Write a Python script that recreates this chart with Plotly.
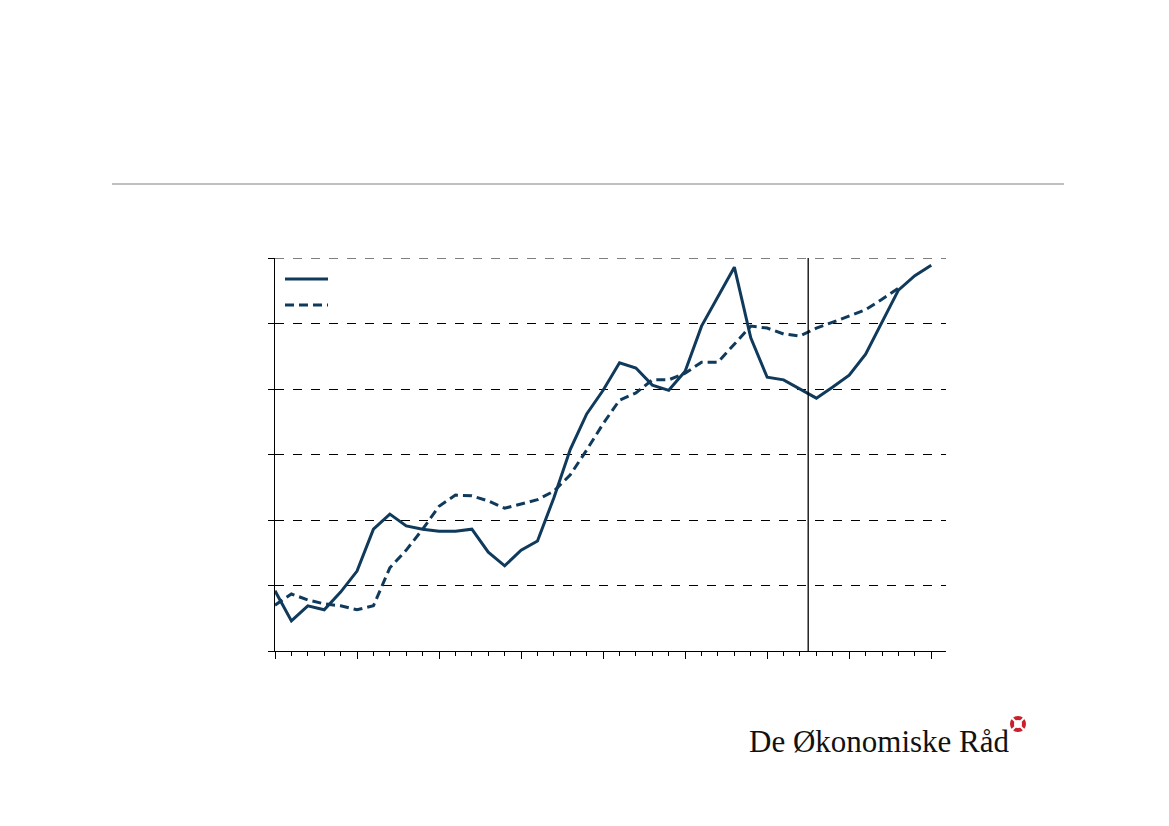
import plotly.graph_objects as go

# Quarter index (no axis labels in the reference)
periods = list(range(41))

solid_values = [9.2, 4.6, 6.9, 6.3, 9.0, 12.2, 18.6, 20.9, 19.1, 18.6,
                18.3, 18.3, 18.6, 15.1, 13.0, 15.4, 16.8, 23.4, 30.8, 36.2,
                39.8, 44.0, 43.2, 40.6, 39.8, 42.7, 49.6, 54.0, 58.6, 47.8,
                41.8, 41.4, 40.0, 38.6, 40.3, 42.1, 45.3, 50.1, 55.1, 57.3,
                58.9]

dashed_values = [7.0, 8.7, 7.8, 7.2, 6.9, 6.3, 6.9, 12.7, 15.4, 18.6,
                 22.1, 23.8, 23.7, 22.9, 21.8, 22.4, 23.1, 24.4, 26.9, 30.7,
                 34.7, 38.3, 39.4, 41.4, 41.4, 42.4, 44.1, 44.1, 46.9, 49.6,
                 49.3, 48.4, 48.1, 49.3, 50.2, 51.1, 52.1, 53.7, 55.4]

split_position = 32.5
major_ticks = list(range(0, 41, 5))
y_ticks = [0, 10, 20, 30, 40, 50, 60]
logo_text = "De Økonomiske Råd"

LINE = "#0f3a5c"
DASH = "9px,5px"
PW, PH = 671, 393  # plot area size in px


def px(xp):
    return (xp - 275) / PW


def py(yp):
    return (651 - yp) / PH


fig = go.Figure()
fig.add_trace(go.Scatter(x=periods, y=solid_values, mode="lines", showlegend=False,
                         line=dict(color=LINE, width=3)))
fig.add_trace(go.Scatter(x=periods[:len(dashed_values)], y=dashed_values, mode="lines",
                         showlegend=False, line=dict(color=LINE, width=3, dash=DASH)))

# top gridline (plotly omits the one on the range edge)
fig.add_shape(type="line", xref="paper", yref="y", x0=0, x1=1, y0=y_ticks[-1], y1=y_ticks[-1],
              line=dict(color="black", width=1, dash="dash"), layer="below")

fig.add_shape(type="line", xref="x", yref="paper", x0=split_position, x1=split_position,
              y0=0, y1=1, line=dict(color="black", width=1.3))

# legend samples (legend has no text)
fig.add_shape(type="line", xref="paper", yref="paper", x0=px(285), x1=px(328),
              y0=py(279), y1=py(279), line=dict(color=LINE, width=3))
fig.add_shape(type="line", xref="paper", yref="paper", x0=px(285), x1=px(328),
              y0=py(305), y1=py(305), line=dict(color=LINE, width=3, dash=DASH))

# grey rule under header
fig.add_shape(type="line", xref="paper", yref="paper", x0=px(112), x1=px(1064),
              y0=py(184), y1=py(184), line=dict(color="#c0c0c0", width=2))

fig.add_annotation(xref="paper", yref="paper", x=px(1012), y=py(741),
                   xanchor="right", yanchor="middle", text=logo_text, showarrow=False,
                   font=dict(family="Liberation Serif", size=31, color="#111111"))

# logo emblem
cx, cy = px(1018), py(724)
fig.add_shape(type="circle", xref="paper", yref="paper", xsizemode="pixel", ysizemode="pixel",
              xanchor=cx, yanchor=cy, x0=-8, x1=8, y0=-8, y1=8,
              fillcolor="#c8202c", line=dict(width=0))
fig.add_shape(type="circle", xref="paper", yref="paper", xsizemode="pixel", ysizemode="pixel",
              xanchor=cx, yanchor=cy, x0=-4, x1=4, y0=-4, y1=4,
              fillcolor="white", line=dict(width=0))
for sx, sy in [(1, 1), (1, -1)]:
    fig.add_shape(type="line", xref="paper", yref="paper", xsizemode="pixel", ysizemode="pixel",
                  xanchor=cx, yanchor=cy, x0=-9 * sx, x1=9 * sx, y0=-9 * sy, y1=9 * sy,
                  line=dict(color="white", width=2))

fig.update_layout(
    width=1169, height=826,
    margin=dict(l=275, r=223, t=258, b=175),
    paper_bgcolor="white", plot_bgcolor="white",
    showlegend=False,
    xaxis=dict(range=[0, 40.9], showgrid=False, zeroline=False,
               showline=True, linecolor="black", linewidth=1.3,
               tickvals=major_ticks, ticks="outside", ticklen=7, tickcolor="black",
               showticklabels=False,
               minor=dict(dtick=1, tick0=0, ticks="outside", ticklen=4, tickcolor="black", showgrid=False)),
    yaxis=dict(range=[0, 60], tickvals=y_ticks, showgrid=True, gridcolor="black",
               griddash="dash", gridwidth=1, zeroline=False,
               showline=True, linecolor="black", linewidth=1.3,
               ticks="outside", ticklen=6, tickcolor="black", showticklabels=False),
)

fig.write_html("out.html")
